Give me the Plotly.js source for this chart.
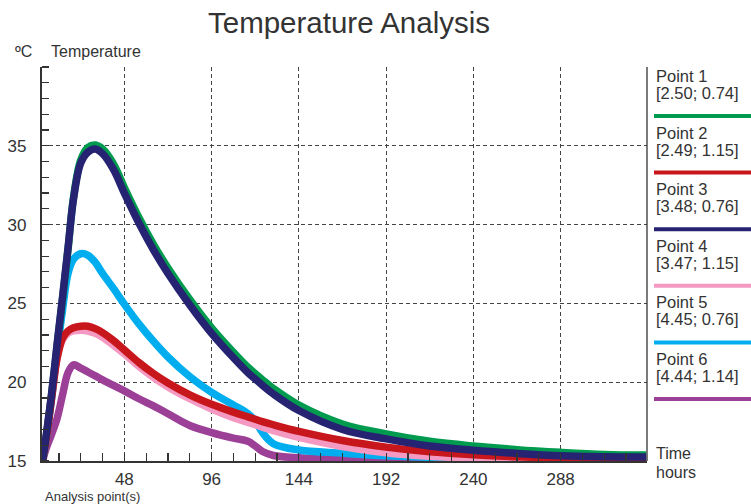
<!DOCTYPE html>
<html>
<head>
<meta charset="utf-8">
<script src="https://cdn.plot.ly/plotly-3.0.1.min.js"></script>
<style>html,body{margin:0;padding:0;background:#fff;}#chart{width:751px;height:504px;}</style>
</head>
<body>
<div id="chart"></div>
<script>
// ---- data ----
const time = [3,5,8,11,14,17,20,24,28,32,36,42,48,56,64,72,84,96,108,116,120,124,130,144,168,192,216,240,264,288,312,335];
const point1 = [15.0,16.5,19.2,22.3,25.3,28.4,31.7,34.1,34.9,35.05,34.8,33.85,32.35,30.45,28.75,27.25,25.25,23.45,21.9,20.95,20.55,20.15,19.6,18.55,17.35,16.72,16.25,15.95,15.72,15.55,15.42,15.38];
const point2 = [15.0,16.4,19.0,21.5,22.8,23.25,23.45,23.55,23.55,23.4,23.15,22.65,22.05,21.25,20.55,19.95,19.2,18.6,18.1,17.8,17.65,17.5,17.3,16.88,16.3,15.88,15.58,15.4,15.27,15.2,15.15,15.12];
const point3 = [15.0,16.6,19.3,22.4,25.4,28.5,31.6,33.9,34.6,34.8,34.5,33.5,32.0,30.1,28.4,26.9,24.9,23.1,21.55,20.6,20.2,19.8,19.25,18.2,17.0,16.4,15.95,15.68,15.48,15.33,15.27,15.25];
const point4 = [15.0,16.5,19.2,21.6,22.7,23.1,23.25,23.3,23.25,23.1,22.85,22.35,21.8,21.0,20.3,19.7,18.95,18.3,17.75,17.45,17.3,17.15,16.92,16.5,15.92,15.52,15.3,15.18,15.12,15.08,15.05,15.04];
const point5 = [15.0,16.4,19.0,21.9,24.6,26.9,27.8,28.15,28.05,27.6,26.9,25.95,24.95,23.7,22.6,21.6,20.35,19.35,18.55,18.0,17.55,16.8,16.1,15.7,15.5,15.33,15.23,15.15,15.1,15.07,15.05,15.05];
const point6 = [15.0,15.8,16.7,17.7,19.2,20.6,21.1,20.9,20.65,20.4,20.15,19.8,19.45,18.95,18.5,18.0,17.25,16.8,16.45,16.25,15.95,15.6,15.35,15.2,15.1,15.07,15.05,15.05,15.05,15.05,15.05,15.05];

const seriesNames = ['Point 1','Point 2','Point 3','Point 4','Point 5','Point 6'];
const seriesCoords = ['[2.50; 0.74]','[2.49; 1.15]','[3.48; 0.76]','[3.47; 1.15]','[4.45; 0.76]','[4.44; 1.14]'];
const seriesColors = ['#009b4e','#c8161d','#252372','#f49ac2','#00aeef','#9b3f97'];
const seriesValues = [point1, point2, point3, point4, point5, point6];

const xTickVals = [48,96,144,192,240,288];
const yTickVals = [15,20,25,30,35];

// ---- layout helpers (pixel geometry of plot area) ----
const W = 751, H = 504;
const plotL = 42, plotR = 647, plotT = 67, plotB = 461;
const px2x = p => (p - plotL) / (plotR - plotL);
const px2y = p => (plotB - p) / (plotB - plotT);

// draw order bottom -> top
const drawOrder = [5, 4, 3, 0, 1, 2];
const traces = drawOrder.map(i => ({
  type: 'scatter', mode: 'lines',
  x: time, y: seriesValues[i], name: seriesNames[i],
  line: {color: seriesColors[i], width: 7.5, shape: 'spline', smoothing: 1},
  hoverinfo: 'skip', showlegend: false
}));

const txt = '#333333';
const font = 'Liberation Sans, Arial, sans-serif';

const annotations = [
  {text: 'ºC', xref: 'paper', yref: 'paper', x: px2x(13), y: px2y(52), xanchor: 'left', yanchor: 'middle', showarrow: false, font: {size: 16, color: txt, family: font}},
  {text: 'Temperature', xref: 'paper', yref: 'paper', x: px2x(49), y: px2y(52), xanchor: 'left', yanchor: 'middle', showarrow: false, font: {size: 16, color: txt, family: font}},
  {text: 'Analysis point(s)', xref: 'paper', yref: 'paper', x: px2x(43), y: px2y(496), xanchor: 'left', yanchor: 'middle', showarrow: false, font: {size: 13, color: txt, family: font}},
  {text: 'Time', xref: 'paper', yref: 'paper', x: px2x(654), y: px2y(453), xanchor: 'left', yanchor: 'middle', showarrow: false, font: {size: 16, color: txt, family: font}},
  {text: 'hours', xref: 'paper', yref: 'paper', x: px2x(654), y: px2y(472), xanchor: 'left', yanchor: 'middle', showarrow: false, font: {size: 16, color: txt, family: font}}
];
const shapes = [
  {type: 'line', xref: 'paper', yref: 'paper', x0: 1, x1: 1, y0: 0, y1: 1, line: {color: txt, width: 1.3}}
];
const legTop = 76, legStep = 56.6;
seriesNames.forEach((n, i) => {
  const yy = legTop + i * legStep;
  annotations.push({text: n, xref: 'paper', yref: 'paper', x: px2x(654), y: px2y(yy), xanchor: 'left', yanchor: 'middle', showarrow: false, font: {size: 16.5, color: txt, family: font}});
  annotations.push({text: seriesCoords[i], xref: 'paper', yref: 'paper', x: px2x(654), y: px2y(yy + 17), xanchor: 'left', yanchor: 'middle', showarrow: false, font: {size: 16.5, color: txt, family: font}});
  shapes.push({type: 'line', xref: 'paper', yref: 'paper', x0: px2x(654), x1: px2x(751), y0: px2y(yy + 40), y1: px2y(yy + 40), line: {color: seriesColors[i], width: 4}});
});

const layout = {
  width: W, height: H,
  margin: {l: plotL, r: W - plotR, t: plotT, b: H - plotB, pad: 0},
  paper_bgcolor: '#ffffff', plot_bgcolor: '#ffffff',
  font: {family: font, color: txt},
  title: {text: 'Temperature Analysis', xref: 'container', yref: 'container', x: 349 / W, y: 1 - 23 / H, xanchor: 'center', yanchor: 'middle', font: {size: 29.5, color: txt, family: font}},
  xaxis: {
    range: [2.7, 335.5], tickvals: xTickVals, ticktext: xTickVals.map(String),
    showgrid: true, gridcolor: '#444', griddash: '4px,3px', gridwidth: 1,
    zeroline: false, showline: true, linecolor: txt, linewidth: 2.2,
    ticks: '', ticklabelstandoff: 1,
    tickfont: {size: 17, color: txt, family: font},
    minor: {dtick: 12, tick0: 0, ticks: 'inside', ticklen: 8, tickcolor: txt, tickwidth: 1.2, showgrid: false},
    fixedrange: true
  },
  yaxis: {
    range: [15, 40], tickvals: yTickVals, ticktext: yTickVals.map(String),
    showgrid: true, gridcolor: '#444', griddash: '4px,3px', gridwidth: 1,
    zeroline: false, showline: true, linecolor: txt, linewidth: 2.2,
    ticks: '', ticklabelstandoff: 10,
    tickfont: {size: 17, color: txt, family: font},
    minor: {dtick: 1, tick0: 0, ticks: 'inside', ticklen: 7, tickcolor: txt, tickwidth: 1.2, showgrid: false},
    fixedrange: true
  },
  annotations: annotations,
  shapes: shapes,
  showlegend: false
};

Plotly.newPlot('chart', traces, layout, {staticPlot: true, displayModeBar: false});
</script>
</body>
</html>
